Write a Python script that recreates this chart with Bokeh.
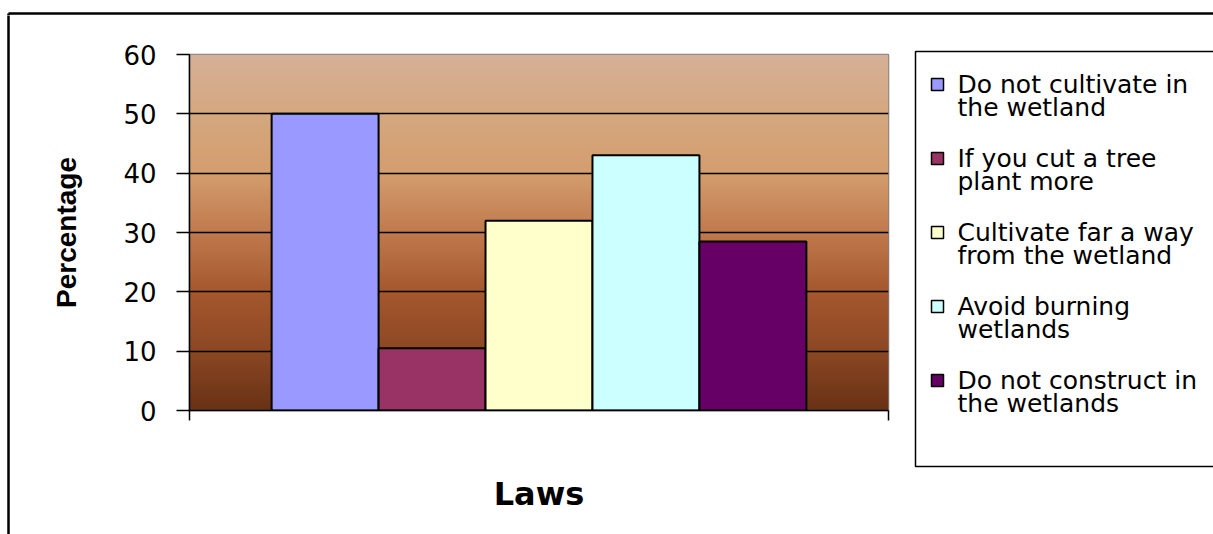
import numpy as np
from bokeh.plotting import figure
from bokeh.layouts import row, column
from bokeh.models import FixedTicker, Range1d, ColumnDataSource
from bokeh.core.properties import value
from bokeh.embed import file_html
from bokeh.resources import INLINE

# ---- data ----
categories = ["Do not cultivate in the wetland", "If you cut a tree plant more",
              "Cultivate far a way from the wetland", "Avoid burning wetlands",
              "Do not construct in the wetlands"]
legend_lines = [["Do not cultivate in", "the wetland"],
                ["If you cut a tree", "plant more"],
                ["Cultivate far a way", "from the wetland"],
                ["Avoid burning", "wetlands"],
                ["Do not construct in", "the wetlands"]]
percentages = [50, 10.5, 32, 43, 28.5]
bar_colors = ["#9999FF", "#993366", "#FFFFCC", "#CCFFFF", "#660066"]
y_ticks = [0, 10, 20, 30, 40, 50, 60]
x_title = "Laws"
y_title = "Percentage"

# ---- layout (page pixels) ----
W, H = 1213, 534
TOP_H = 15          # strip holding the top border line
LEFT_W = 10         # strip holding the left border line
MAIN_W = 895        # main chart figure width (page x 10..905)
LEG_W = W - LEFT_W - MAIN_W
BODY_H = H - TOP_H
FL, FT, FR, FB = 189, 54, 888, 410   # plot-area edges on the page


def blank(width, height, xr, yr):
    f = figure(width=width, height=height, output_backend="svg", toolbar_location=None,
               x_range=Range1d(*xr), y_range=Range1d(*yr),
               min_border=0, min_border_left=0, min_border_right=0,
               min_border_top=0, min_border_bottom=0)
    f.axis.visible = False
    f.grid.visible = False
    f.outline_line_color = None
    f.background_fill_color = "white"
    f.border_fill_color = "white"
    f.frame_align = False
    return f


# top strip with the chart-area border
top = blank(W, TOP_H, (0, W), (TOP_H, 0))
top.segment(x0=[8, 8], y0=[13, 13], x1=[W + 5, 8], y1=[13, TOP_H + 2],
            line_color="black", line_width=2.5)

# left strip with the chart-area border
left = blank(LEFT_W, BODY_H, (0, LEFT_W), (BODY_H, 0))
left.segment(x0=[8], y0=[-2], x1=[8], y1=[BODY_H + 2], line_color="black", line_width=2.5)

# ---- main chart ----
p = figure(width=MAIN_W, height=BODY_H, output_backend="svg", toolbar_location=None,
           x_range=Range1d(-0.5, 0.5), y_range=Range1d(0, 60),
           min_border_left=FL - LEFT_W, min_border_right=LEFT_W + MAIN_W - FR,
           min_border_top=FT - TOP_H, min_border_bottom=H - FB)
p.frame_align = False
p.background_fill_color = "white"
p.border_fill_color = "white"
p.outline_line_color = "#808080"
p.outline_line_width = 1.5

# gradient background of the plot area
stops_v = [0, 10, 20, 30, 40, 50, 60]
stops_c = [(105, 50, 22), (140, 72, 36), (166, 88, 46), (192, 122, 78),
           (212, 158, 110), (213, 168, 128), (214, 176, 152)]
N = 360
vals = np.linspace(0, 60, N)
r = np.interp(vals, stops_v, [c[0] for c in stops_c])
g = np.interp(vals, stops_v, [c[1] for c in stops_c])
b = np.interp(vals, stops_v, [c[2] for c in stops_c])
img = np.zeros((N, 2), dtype=np.uint32)
view = img.view(dtype=np.uint8).reshape((N, 2, 4))
for j in range(2):
    view[:, j, 0] = r.astype(np.uint8)
    view[:, j, 1] = g.astype(np.uint8)
    view[:, j, 2] = b.astype(np.uint8)
    view[:, j, 3] = 255
p.image_rgba(image=[img], x=-0.5, y=0, dw=1, dh=60, level="image")

# grid
p.xgrid.visible = False
p.ygrid.ticker = FixedTicker(ticks=y_ticks)
p.ygrid.grid_line_color = "black"
p.ygrid.grid_line_width = 1.5

# bars
bar_w = 0.153
n = len(percentages)
xs = [(i - (n - 1) / 2) * bar_w for i in range(n)]
src = ColumnDataSource(dict(x=xs, top=percentages, color=bar_colors, cat=categories))
p.vbar(x="x", top="top", width=bar_w, bottom=0, source=src,
       fill_color="color", line_color="black", line_width=2)

# axes
p.yaxis.ticker = FixedTicker(ticks=y_ticks)
p.yaxis.minor_tick_line_color = None
p.yaxis.major_tick_in = 0
p.yaxis.major_tick_out = 13
p.yaxis.major_tick_line_color = "black"
p.yaxis.major_tick_line_width = 1.5
p.yaxis.axis_line_color = "black"
p.yaxis.axis_line_width = 1.5
p.yaxis.major_label_text_font = "DejaVu Sans"
p.yaxis.major_label_text_font_size = "26px"
p.yaxis.major_label_text_color = "black"
p.yaxis.major_label_standoff = 20
p.yaxis.axis_label = y_title
p.yaxis.axis_label_text_font = "Liberation Sans"
p.yaxis.axis_label_text_font_style = "bold"
p.yaxis.axis_label_text_font_size = "28px"
p.yaxis.axis_label_text_color = "black"
p.yaxis.axis_label_standoff = 38

p.xaxis.ticker = FixedTicker(ticks=[-0.5, 0.5])
p.xaxis.major_label_overrides = {-0.5: "", 0.5: ""}
p.xaxis.minor_tick_line_color = None
p.xaxis.major_tick_in = 0
p.xaxis.major_tick_out = 10
p.xaxis.major_tick_line_color = "black"
p.xaxis.major_tick_line_width = 1.5
p.xaxis.axis_line_color = "black"
p.xaxis.axis_line_width = 1.5
p.xaxis.axis_label = x_title
p.xaxis.axis_label_text_font = "DejaVu Sans"
p.xaxis.axis_label_text_font_style = "bold"
p.xaxis.axis_label_text_font_size = "32px"
p.xaxis.axis_label_text_color = "black"
p.xaxis.axis_label_standoff = 54

# ---- legend figure (coordinates = page pixels relative to its corner) ----
X0, Y0 = LEFT_W + MAIN_W, TOP_H
leg = blank(LEG_W, BODY_H, (0, LEG_W), (BODY_H, 0))
leg.quad(left=[915 - X0], right=[W + 20 - X0], top=[51 - Y0], bottom=[466 - Y0],
         fill_color="white", line_color="black", line_width=1.5)
sq_l, sq_r, sq_t, sq_b, sq_c = [], [], [], [], []
tx, ty, tt = [], [], []
for i, lines in enumerate(legend_lines):
    yc = 84 + 74 * i - Y0
    sq_l.append(931 - X0)
    sq_r.append(943 - X0)
    sq_t.append(yc - 6)
    sq_b.append(yc + 6)
    sq_c.append(bar_colors[i])
    for k, t in enumerate(lines):
        tx.append(957 - X0)
        ty.append(yc + 23 * k)
        tt.append(t)
leg.quad(left=sq_l, right=sq_r, top=sq_t, bottom=sq_b, fill_color=sq_c,
         line_color="black", line_width=1.5)
leg.text(x=tx, y=ty, text=tt, text_baseline="middle", text_align="left",
         text_font=value("DejaVu Sans"), text_font_size="25px", text_color="black")

layout = column(top, row(left, p, leg, spacing=0), spacing=0)
open("out.html", "w").write(file_html(layout, INLINE))
